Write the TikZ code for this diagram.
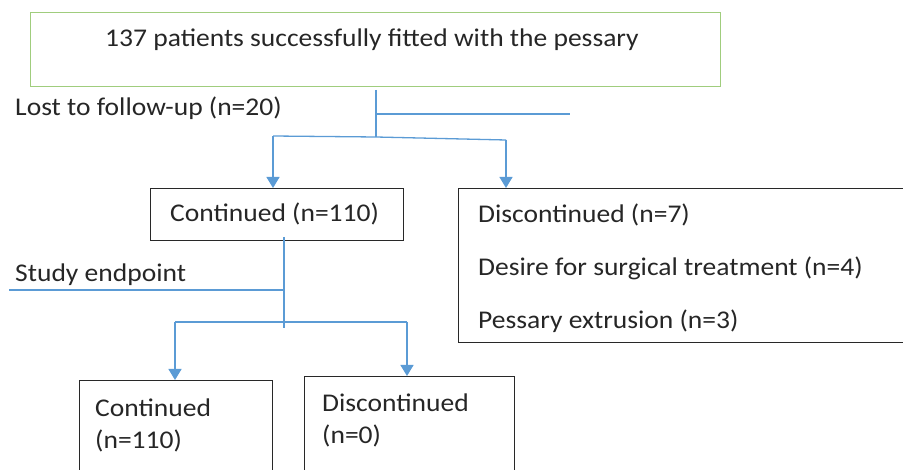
\documentclass[tikz,border=0pt]{standalone}
\usepackage{fontspec}
\setmainfont[FakeStretch=1.08]{Carlito}
\usetikzlibrary{arrows.meta}
\definecolor{lineblue}{RGB}{91,155,213}
\definecolor{boxgreen}{RGB}{160,205,125}
\definecolor{boxgray}{RGB}{40,40,40}
\tikzset{
  box/.style={draw=boxgray,line width=1.4pt,rectangle,inner sep=0pt,anchor=north west},
  lbl/.style={anchor=west,inner sep=0pt,font=\fontsize{25.5}{30}\selectfont,text=black!85},
  conn/.style={draw=lineblue,line width=1.3pt},
  arr/.style={conn,-{Triangle[width=13pt,length=11pt]}},
}
\begin{document}
\begin{tikzpicture}[x=1pt,y=-1pt]
\useasboundingbox (0,0) rectangle (903,470);
% boxes
\node[box,draw=boxgreen,minimum width=690pt,minimum height=74pt] (top) at (30,12) {};
\node[box,minimum width=253pt,minimum height=52pt] (cont) at (150,188) {};
\node[box,minimum width=450pt,minimum height=154pt] (disc) at (458,188) {};
\node[box,minimum width=193pt,minimum height=100pt] (cont2) at (79,380) {};
\node[box,minimum width=210pt,minimum height=104pt] (disc2) at (304,376) {};
% texts
\node[lbl,anchor=center] (toptxt) at (372,40) {137 patients successfully fitted with the pessary};
\node[lbl] (lost) at (15,108) {Lost to follow-up (n=20)};
\node[lbl] (conttxt) at (170,214) {Continued (n=110)};
\node[lbl] (d1) at (478,215) {Discontinued (n=7)};
\node[lbl] (d2) at (478,268) {Desire for surgical treatment (n=4)};
\node[lbl] (d3) at (478,321) {Pessary extrusion (n=3)};
\node[lbl] (study) at (15,275) {Study endpoint};
\node[lbl] (c2a) at (95,408) {Continued};
\node[lbl] (c2b) at (95,441) {(n=110)};
\node[lbl] (dd2a) at (322,403) {Discontinued};
\node[lbl] (dd2b) at (322,436) {(n=0)};
% connector coordinates
\coordinate (a0) at (376,90);
\coordinate (a1) at (376,114);
\coordinate (a2) at (376,137);
\coordinate (lostend) at (570,114);
\coordinate (bl) at (273,136);
\coordinate (br) at (506,140);
\coordinate (b0) at (284,237);
\coordinate (b1) at (284,290);
\coordinate (b2) at (284,328);
\coordinate (studyend) at (9,290);
\coordinate (cl) at (175,322);
\coordinate (cr) at (407,322);
% connectors
\draw[conn] (a0) -- (a2);
\draw[conn] (a1) -- (lostend);
\draw[conn] (bl) -- (a2) -- (br);
\draw[arr] (bl) -- (bl |- cont.north);
\draw[arr] (br) -- (br |- disc.north);
\draw[conn] (b0) -- (b2);
\draw[conn] (studyend) -- (b1);
\draw[conn] (cl) -- (cr);
\draw[arr] (cl) -- (cl |- cont2.north);
\draw[arr] (cr) -- (cr |- disc2.north);
\end{tikzpicture}
\end{document}
